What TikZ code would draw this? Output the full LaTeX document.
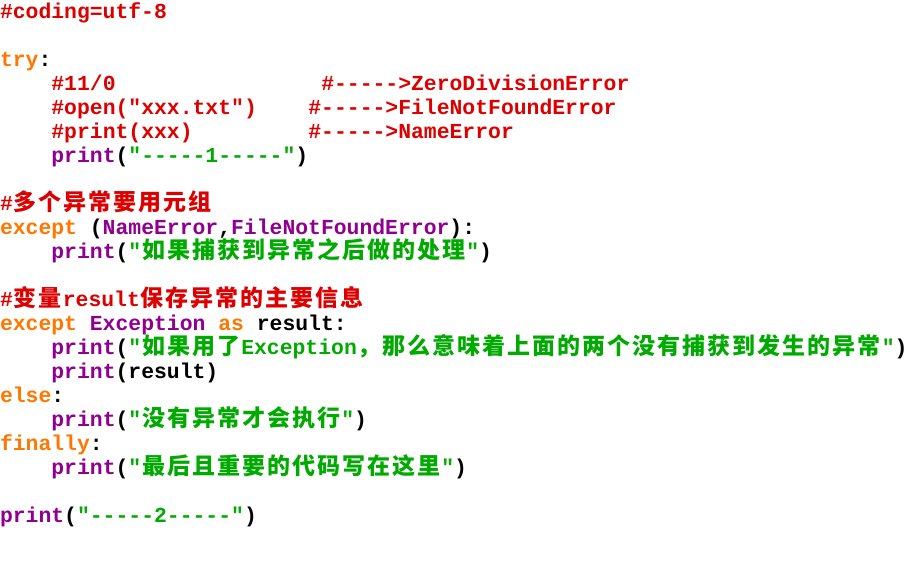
\documentclass[tikz,border=0pt]{standalone}
\usepackage{fontspec}
\newfontfamily\codefont{Liberation Mono}[Ligatures=TeXOff]
\newfontfamily\cjkfont{Noto Sans CJK SC}
\definecolor{cmt}{HTML}{DD0000}
\definecolor{kwd}{HTML}{FF7700}
\definecolor{bin}{HTML}{900090}
\definecolor{strg}{HTML}{00AA00}
\newcommand\C[1]{\textcolor{cmt}{#1}}
\newcommand\K[1]{\textcolor{kwd}{#1}}
\newcommand\B[1]{\textcolor{bin}{#1}}
\newcommand\Sg[1]{\textcolor{strg}{#1}}
\newcommand\zhend{}
\def\zhloop#1{\ifx#1\zhend\else\makebox[25pt]{\cjkfont\fontsize{23}{24}\selectfont#1}\expandafter\zhloop\fi}
\newcommand\zh[1]{\zhloop#1\zhend}
\tikzset{codetext/.style={anchor=base west,inner sep=0pt,outer sep=0pt,
  font=\codefont\bfseries\fontsize{21.4}{24}\selectfont\frenchspacing}}
\newcommand\codeat[4]{\node[codetext] (#1) at ({#2*12.85},{18.5+24*(#3-1)}) {#4};}
\begin{document}
\begin{tikzpicture}[x=1pt,y=-1pt]
\fill[white] (0,0) rectangle (920,572);
\useasboundingbox (0,0) rectangle (920,572);
\codeat{l1}{0}{1}{\C{\#coding=utf-8}}
\codeat{l3}{0}{3}{\K{try}:}
\codeat{l4a}{4}{4}{\C{\#11/0}}
\codeat{l4b}{25}{4}{\C{\#----->ZeroDivisionError}}
\codeat{l5a}{4}{5}{\C{\#open("xxx.txt")}}
\codeat{l5b}{24}{5}{\C{\#----->FileNotFoundError}}
\codeat{l6a}{4}{6}{\C{\#print(xxx)}}
\codeat{l6b}{24}{6}{\C{\#----->NameError}}
\codeat{l7}{4}{7}{\B{print}(\Sg{"-----1-----"})}
\codeat{l9}{0}{9}{\C{\#\zh{多个异常要用元组}}}
\codeat{l10}{0}{10}{\K{except} (\B{NameError},\B{FileNotFoundError}):}
\codeat{l11}{4}{11}{\B{print}(\Sg{"\zh{如果捕获到异常之后做的处理}"})}
\codeat{l13}{0}{13}{\C{\#\zh{变量}result\zh{保存异常的主要信息}}}
\codeat{l14}{0}{14}{\K{except} \B{Exception} \K{as} result:}
\codeat{l15}{4}{15}{\B{print}(\Sg{"\zh{如果用了}Exception\zh{，那么意味着上面的两个没有捕获到发生的异常}"})}
\codeat{l16}{4}{16}{\B{print}(result)}
\codeat{l17}{0}{17}{\K{else}:}
\codeat{l18}{4}{18}{\B{print}(\Sg{"\zh{没有异常才会执行}"})}
\codeat{l19}{0}{19}{\K{finally}:}
\codeat{l20}{4}{20}{\B{print}(\Sg{"\zh{最后且重要的代码写在这里}"})}
\codeat{l22}{0}{22}{\B{print}(\Sg{"-----2-----"})}
\end{tikzpicture}
\end{document}
